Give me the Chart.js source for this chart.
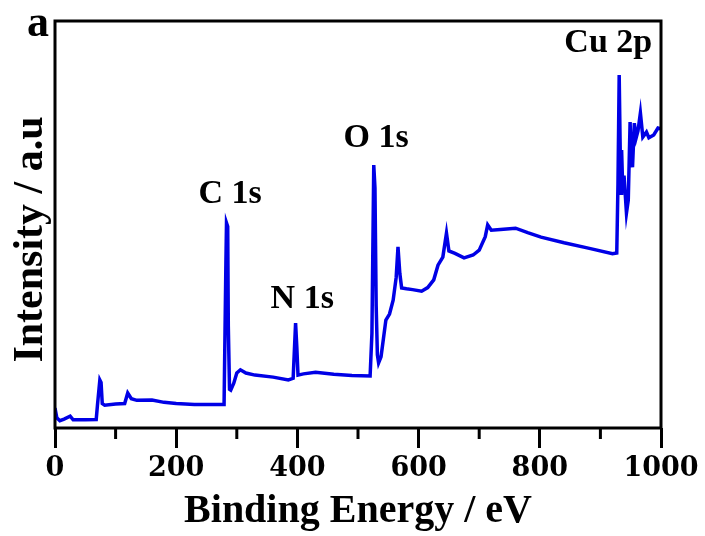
<!DOCTYPE html>
<html>
<head>
<meta charset="utf-8">
<script src="https://cdn.jsdelivr.net/npm/chart.js@4.4.0/dist/chart.umd.min.js"></script>
<style>
  body { margin: 0; background: #fff; }
  #wrap { width: 705px; height: 536px; }
</style>
</head>
<body>
<div id="wrap"><canvas id="xps" width="705" height="536"></canvas></div>
<script>
// binding energy (eV) and intensity (a.u.)
var energy = [0, 3, 8, 15, 25, 30, 50, 68, 70, 74, 76, 78, 82, 100, 115, 120, 126, 135, 160, 180,
    200, 230, 279, 282, 283, 285, 286, 288, 290, 295, 300, 306, 315, 330, 360, 385, 393, 397, 399, 401,
    410, 430, 460, 490, 520, 523, 526, 528, 530, 532, 534, 538, 542, 546, 552, 558, 563, 566, 569, 572,
    580, 590, 605, 615, 625, 632, 640, 646, 650, 660, 675, 690, 700, 710, 714, 720, 735, 760, 780, 802,
    840, 880, 920, 927, 929, 931, 933, 934, 935, 937, 939, 943, 946, 949, 951, 953, 956, 959, 962, 966,
    970, 976, 980, 988, 995, 1000];
var intensity = [4.9, 2.5, 1.8, 2.2, 2.9, 2.0, 2.0, 2.1, 5.5, 11.8, 11.2, 6.0, 5.6, 5.9, 6.0, 8.6, 7.2, 6.8, 6.9, 6.3,
    6.0, 5.8, 5.8, 40.5, 50.4, 49.5, 25.0, 9.5, 9.3, 11.0, 13.5, 14.3, 13.5, 13.0, 12.5, 11.8, 12.2, 25.8, 20.0, 13.0,
    13.3, 13.7, 13.2, 12.9, 12.8, 23.3, 64.6, 59.0, 30.0, 18.0, 16.0, 17.5, 22.0, 26.5, 28.0, 31.4, 37.0, 44.5, 38.0, 34.4,
    34.2, 34.0, 33.6, 34.5, 36.4, 40.0, 42.0, 47.9, 43.5, 42.9, 41.8, 42.5, 43.7, 47.0, 49.9, 48.6, 48.8, 49.1, 48.0, 46.9,
    45.5, 44.2, 42.8, 43.0, 60.0, 86.7, 65.0, 57.7, 68.3, 58.0, 62.0, 52.8, 56.0, 75.2, 66.0, 64.1, 74.9, 71.3, 73.0, 77.4,
    71.5, 72.7, 71.3, 72.0, 73.7, 73.5];
var majorTicks = [0, 200, 400, 600, 800, 1000];
var minorTicks = [100, 300, 500, 700, 900];
var peakNames = ['C 1s', 'N 1s', 'O 1s', 'Cu 2p'];

// where the peak names sit (data units)
var peakLabelX = [289, 408, 530, 913];
var peakLabelY = [55.3, 29.5, 69.0, 92.4];

var serif = "'Times New Roman', 'Liberation Serif', serif";

var points = [];
for (var i in energy) {
    points.push({ x: energy[i], y: intensity[i] });
}

var extras = {
    id: 'extras',
    afterDraw: function (chart) {
        var ctx = chart.ctx;
        var a = chart.chartArea;
        var xs = chart.scales.x;
        var ys = chart.scales.y;
        ctx.save();
        ctx.strokeStyle = '#000';
        ctx.lineWidth = 3;
        ctx.strokeRect(a.left, a.top, a.right - a.left, a.bottom - a.top);
        // minor ticks
        minorTicks.forEach(function (v) {
            var px = xs.getPixelForValue(v);
            ctx.beginPath();
            ctx.moveTo(px, a.bottom);
            ctx.lineTo(px, a.bottom + 11);
            ctx.stroke();
        });
        ctx.fillStyle = '#000';
        ctx.textBaseline = 'alphabetic';
        ctx.textAlign = 'center';
        ctx.font = 'bold 34px ' + serif;
        peakNames.forEach(function (t, k) {
            ctx.fillText(t, xs.getPixelForValue(peakLabelX[k]), ys.getPixelForValue(peakLabelY[k]));
        });
        ctx.textAlign = 'left';
        ctx.font = 'bold 44px ' + serif;
        ctx.fillText('a', a.left - 28, a.top + 15);
        // y title
        ctx.translate(42, (a.top + a.bottom) / 2 + 15);
        ctx.rotate(-Math.PI / 2);
        ctx.textAlign = 'center';
        ctx.font = 'bold 42px ' + serif;
        ctx.fillText('Intensity / a.u', 0, 0);
        ctx.restore();
    }
};

var chart = new Chart(document.getElementById('xps'), {
    type: 'line',
    data: {
        datasets: [{
            label: 'XPS',
            data: points,
            borderColor: '#0000e6',
            borderWidth: 3.5,
            pointRadius: 0,
            tension: 0,
            fill: false
        }]
    },
    options: {
        responsive: false,
        animation: false,
        layout: { padding: { left: 0, right: 44, top: 21, bottom: 0 } },
        plugins: { legend: { display: false }, tooltip: { enabled: false } },
        scales: {
            x: {
                type: 'linear',
                min: 0,
                max: 1000,
                afterBuildTicks: function (s) {
                    s.ticks = majorTicks.map(function (v) { return { value: v }; });
                },
                afterFit: function (s) { s.height = 108; },
                grid: { display: true, drawOnChartArea: false, drawTicks: true, tickLength: 20, lineWidth: 3, color: '#000' },
                border: { display: false },
                ticks: {
                    autoSkip: false,
                    maxRotation: 0,
                    padding: 5,
                    color: '#000',
                    font: { family: "'DejaVu Serif', serif", weight: 'bold', size: 27 },
                    callback: function (v) { return String(v); }
                },
                title: {
                    display: true,
                    text: 'Binding Energy / eV',
                    color: '#000',
                    padding: 0,
                    font: { family: serif, weight: 'bold', size: 40, lineHeight: 1.2 }
                }
            },
            y: {
                min: 0,
                max: 100,
                afterFit: function (s) { s.width = 55; },
                grid: { display: false },
                border: { display: false },
                ticks: { display: false }
            }
        }
    },
    plugins: [extras]
});
</script>
</body>
</html>
